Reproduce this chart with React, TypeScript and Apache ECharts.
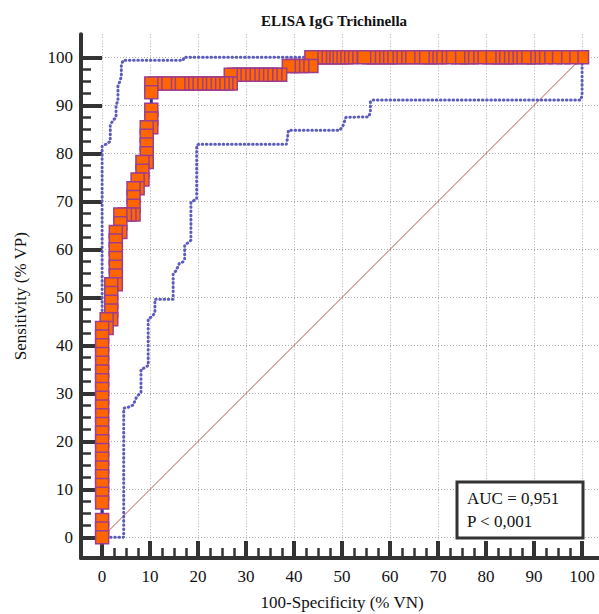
import React, { useEffect, useRef } from 'react';
import * as echarts from 'echarts';

// ROC curve points (100-Specificity, Sensitivity), ascending order
const rocX = [
  0, 0, 0, 0, 0, 0, 0, 0, 0, 0, 0, 0, 0, 0, 0, 0, 0, 0, 0, 0, 0, 0, 0, 0,
  0.95, 0.95, 1.9, 1.9, 1.9, 1.9, 1.9,
  2.85, 2.85, 2.85, 2.85, 2.85, 2.85, 2.85,
  3.8, 3.8, 3.8, 4.75, 5.7, 6.55, 6.55, 6.55, 6.55,
  7.4, 7.4, 8.4, 8.4, 8.4, 9.3, 9.3, 9.3, 9.3, 9.3,
  10.25, 10.25, 10.25, 10.25, 10.25,
  11.1, 13.1, 13.9, 15.9, 16.7, 17.6, 18.6, 19.6, 20.4, 21.4, 22.3, 23.2, 24.2, 25.1, 25.9, 26.8,
  26.8, 27.6, 28.6, 29.5, 30.5, 31.4, 32.3, 33.2, 34.2, 35.1, 36.1, 37.1,
  38.9, 39.8, 40.7, 41.7, 43.6,
  43.6, 44.5, 45.4, 46.1, 46.8, 47.6, 48.4, 49.2, 50.0, 50.9, 51.8, 54.6, 55.6, 56.5, 57.3, 58.2,
  59.3, 60.1, 61.1, 61.9, 63.8, 64.8, 66.8, 67.6, 68.4, 69.5, 70.4, 72.3, 74.2, 75.0, 76.1, 77.0,
  78.7, 80.7, 81.5, 82.5, 83.4, 84.3, 85.1, 86.1, 88.0, 88.9, 89.8, 90.9, 92.5, 94.4, 96.1, 97.8, 100,
];
const rocY = [
  0, 1.82, 3.64, 7.27, 9.09, 10.91, 12.73, 14.55, 16.36, 18.18, 20.0, 21.82, 23.64, 25.45, 27.27, 29.09,
  30.91, 32.73, 34.55, 36.36, 38.18, 40.0, 41.82, 43.64,
  43.64, 45.45, 45.45, 47.27, 49.09, 50.91, 52.73,
  52.73, 54.55, 56.36, 58.18, 60.0, 61.82, 63.64,
  63.64, 65.45, 67.27, 67.27, 67.27, 67.27, 69.09, 70.91, 72.73,
  72.73, 74.55, 74.55, 76.36, 78.18, 78.18, 80.0, 81.82, 83.64, 85.45,
  85.45, 87.27, 89.09, 92.73, 94.55,
  94.55, 94.55, 94.55, 94.55, 94.55, 94.55, 94.55, 94.55, 94.55, 94.55, 94.55, 94.55, 94.55, 94.55, 94.55, 94.55,
  96.36, 96.36, 96.36, 96.36, 96.36, 96.36, 96.36, 96.36, 96.36, 96.36, 96.36, 96.36,
  98.18, 98.18, 98.18, 98.18, 98.18,
  100, 100, 100, 100, 100, 100, 100, 100, 100, 100, 100, 100, 100, 100, 100, 100,
  100, 100, 100, 100, 100, 100, 100, 100, 100, 100, 100, 100, 100, 100, 100, 100,
  100, 100, 100, 100, 100, 100, 100, 100, 100, 100, 100, 100, 100, 100, 100, 100, 100,
];

// Upper 95% confidence bound
const upperCiX = [0, 0, 1.0, 1.7, 1.7, 2.4, 2.9, 2.9, 3.3, 3.3, 3.7, 4.0, 4.0, 4.4, 16.9, 17.0, 100];
const upperCiY = [0, 81.5, 82.0, 82.5, 86.0, 87.0, 87.5, 90.0, 91.0, 94.0, 95.0, 96.0, 98.5, 99.4, 99.4, 100, 100];

// Lower 95% confidence bound
const lowerCiX = [
  0, 4.5, 4.5, 5.8, 6.5, 7.2, 8.1, 8.1, 9.0, 9.6, 9.6, 10.4, 11.0, 11.0, 14.8, 14.8, 15.4, 16.1, 16.9,
  17.2, 17.2, 17.8, 18.5, 18.5, 19.0, 19.7, 19.7, 20.2, 38.4, 38.6, 38.8, 49.5, 50.2, 50.8, 55.5, 55.9,
  55.9, 56.3, 99.7, 100, 100,
];
const lowerCiY = [
  0, 0, 26.9, 27.2, 27.6, 29.3, 30.2, 35.0, 35.4, 35.8, 45.5, 46.0, 46.8, 49.6, 49.6, 55.0, 55.5, 57.1, 57.4,
  58.0, 60.9, 61.3, 61.9, 69.9, 70.1, 70.5, 81.7, 81.9, 81.9, 83.0, 84.8, 84.8, 85.8, 87.5, 87.6, 88.5,
  90.8, 91.1, 91.1, 92.0, 100,
];

// Reference diagonal
const diagX = [0, 100];
const diagY = [0, 100];

const majorTicks = [0, 10, 20, 30, 40, 50, 60, 70, 80, 90, 100];
const minorTicks = [
  2.5, 5, 7.5, 12.5, 15, 17.5, 22.5, 25, 27.5, 32.5, 35, 37.5, 42.5, 45, 47.5, 52.5, 55, 57.5,
  62.5, 65, 67.5, 72.5, 75, 77.5, 82.5, 85, 87.5, 92.5, 95, 97.5,
];

const titleText = 'ELISA IgG Trichinella';
const xName = '100-Specificity (% VN)';
const yName = 'Sensitivity (% VP)';
const aucText = 'AUC = 0,951';
const pText = 'P < 0,001';

const FONT = '"Liberation Serif", "Times New Roman", serif';
const AXIS = '#333333';
const TXT = '#111111';

function zip(xs: number[], ys: number[]) {
  return xs.map((x, i) => [x, ys[i]]);
}

export default function App() {
  const ref = useRef<HTMLDivElement>(null);
  useEffect(() => {
    document.body.style.margin = '0';
    if (!ref.current) return;
    const chart = echarts.init(ref.current, null, { renderer: 'svg' });
    const XMIN = -4.4, XMAX = 104.4, YMIN = -4.3, YMAX = 104.8;
    const splitStyle = { color: '#b0b0b0', width: 1, type: [1, 2] as any };
    const mainX = {
      type: 'value', min: XMIN, max: XMAX, position: 'bottom',
      name: xName, nameLocation: 'middle', nameGap: 36,
      nameTextStyle: { fontFamily: FONT, fontSize: 17, color: TXT },
      axisLine: { show: true, onZero: false, lineStyle: { color: AXIS, width: 4 } },
      axisTick: { show: true, inside: true, length: 17, customValues: majorTicks, lineStyle: { color: AXIS, width: 4 } },
      axisLabel: { show: true, customValues: majorTicks, margin: 10, fontFamily: FONT, fontSize: 17, color: TXT },
      splitLine: { show: true, lineStyle: splitStyle },
    };
    const minorX = {
      type: 'value', min: XMIN, max: XMAX, position: 'bottom',
      axisLine: { show: false, onZero: false },
      axisTick: { show: true, inside: true, length: 10, customValues: minorTicks, lineStyle: { color: AXIS, width: 2.5 } },
      axisLabel: { show: false },
      splitLine: { show: false },
    };
    const mainY = {
      type: 'value', min: YMIN, max: YMAX, position: 'left',
      name: yName, nameLocation: 'middle', nameGap: 52,
      nameTextStyle: { fontFamily: FONT, fontSize: 17, color: TXT },
      axisLine: { show: true, onZero: false, lineStyle: { color: AXIS, width: 4 } },
      axisTick: { show: true, inside: true, length: 21, customValues: majorTicks, lineStyle: { color: AXIS, width: 4 } },
      axisLabel: { show: true, customValues: majorTicks, margin: 8, fontFamily: FONT, fontSize: 17, color: TXT },
      splitLine: { show: true, lineStyle: splitStyle },
    };
    const minorY = {
      type: 'value', min: YMIN, max: YMAX, position: 'left',
      axisLine: { show: false, onZero: false },
      axisTick: { show: true, inside: true, length: 10, customValues: minorTicks, lineStyle: { color: AXIS, width: 2.5 } },
      axisLabel: { show: false },
      splitLine: { show: false },
    };
    const ciLine = { color: '#5c5cbc', width: 3, type: [0.6, 3.6] as any, cap: 'round' as any };
    const rocData = zip(rocX, rocY).reverse();
    chart.setOption({
      animation: false,
      backgroundColor: '#ffffff',
      title: {
        text: titleText, left: 329, top: 8, textAlign: 'center',
        textStyle: { fontFamily: FONT, fontSize: 15, fontWeight: 'bold', color: TXT },
      },
      grid: { left: 81, top: 34.3, width: 522.2, height: 523.7, containLabel: false, outerBoundsMode: 'none' },
      xAxis: [mainX, minorX],
      yAxis: [mainY, minorY],
      series: [
        {
          type: 'line', data: zip(diagX, diagY), symbol: 'none', silent: true,
          lineStyle: { color: '#b85a5a', width: 1 },
        },
        { type: 'line', data: zip(upperCiX, upperCiY), symbol: 'none', silent: true, lineStyle: ciLine },
        { type: 'line', data: zip(lowerCiX, lowerCiY), symbol: 'none', silent: true, lineStyle: ciLine },
        {
          type: 'line', data: rocData, symbol: 'rect', symbolSize: 13, showAllSymbol: true, silent: true,
          lineStyle: { color: '#333399', width: 3 },
          itemStyle: { color: '#ff6600', borderColor: '#9e3d8c', borderWidth: 1.5 },
        },
      ],
      graphic: [
        {
          type: 'rect', shape: { x: 457, y: 482, width: 126, height: 56 },
          style: { fill: '#ffffff', stroke: AXIS, lineWidth: 3 }, z: 100,
        },
        {
          type: 'text', x: 467, y: 498.5, z: 101,
          style: { text: aucText, font: `17px ${FONT}`, fill: TXT, verticalAlign: 'middle', align: 'left' },
        },
        {
          type: 'text', x: 467, y: 521, z: 101,
          style: { text: pText, font: `17px ${FONT}`, fill: TXT, verticalAlign: 'middle', align: 'left' },
        },
      ],
    });
    return () => chart.dispose();
  }, []);
  return <div ref={ref} style={{ width: 599, height: 614 }} />;
}
